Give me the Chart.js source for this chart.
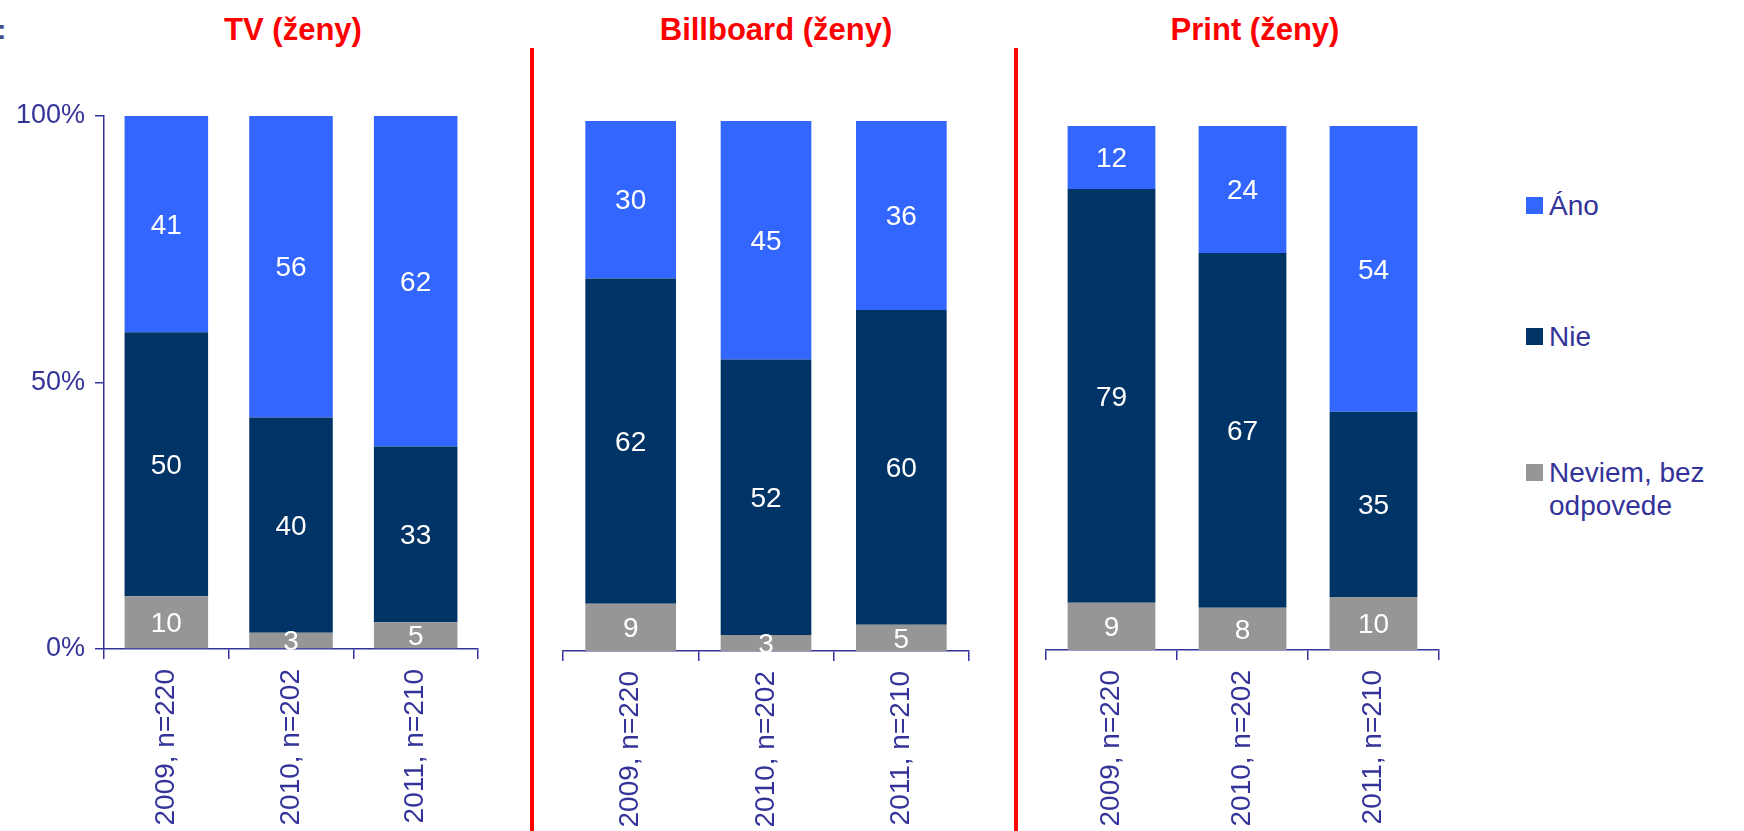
<!DOCTYPE html>
<html>
<head>
<meta charset="utf-8">
<script src="https://cdn.jsdelivr.net/npm/chart.js@4.4.1/dist/chart.umd.min.js"></script>
<style>
  body { margin: 0; width: 1744px; height: 831px; background: #fff; position: relative; overflow: hidden;
         font-family: 'Liberation Sans', Arial, sans-serif; }
  .panel { position: absolute; top: 0; height: 831px; }
  .title { position: absolute; top: 12px; transform: translateX(-50%); color: #ff0000; font-weight: bold;
           font-size: 31px; white-space: nowrap; }
  .sep { position: absolute; top: 48px; bottom: 0; width: 4px; background: #ff0000; }
  .legend { position: absolute; left: 1526px; color: #333399; font-size: 28px; line-height: 33px; }
  .legend span.box { position: absolute; left: 0; top: 8px; width: 17px; height: 17px; }
  .legend div.txt { margin-left: 23px; white-space: nowrap; }
  .frag { position: absolute; left: -3px; top: 14px; color: #3d4f8a; font-size: 28px; font-weight: bold; }
</style>
</head>
<body>
<div class="frag">:</div>
<div class="title" style="left:293px">TV (ženy)</div>
<div class="title" style="left:776px">Billboard (ženy)</div>
<div class="title" style="left:1255px">Print (ženy)</div>
<div class="sep" style="left:530px"></div>
<div class="sep" style="left:1014px"></div>

<div class="panel" style="left:0;width:520px"><canvas id="tv"></canvas></div>
<div class="panel" style="left:540px;width:460px"><canvas id="billboard"></canvas></div>
<div class="panel" style="left:1025px;width:450px"><canvas id="print"></canvas></div>

<div class="legend" style="top:189px"><span class="box" style="background:#3366ff"></span><div class="txt">Áno</div></div>
<div class="legend" style="top:320px"><span class="box" style="background:#003366"></span><div class="txt">Nie</div></div>
<div class="legend" style="top:456px"><span class="box" style="background:#969696"></span><div class="txt">Neviem, bez<br>odpovede</div></div>

<script>
const years = ['2009, n=220', '2010, n=202', '2011, n=210'];
const yTicks = [0, 50, 100];

const tvAno = [41, 56, 62];
const tvNie = [50, 40, 33];
const tvNeviem = [10, 3, 5];

const billboardAno = [30, 45, 36];
const billboardNie = [62, 52, 60];
const billboardNeviem = [9, 3, 5];

const printAno = [12, 24, 54];
const printNie = [79, 67, 35];
const printNeviem = [9, 8, 10];

const axisColor = '#333399';
Chart.defaults.font.family = "'Liberation Sans', Arial, sans-serif";
Chart.defaults.color = axisColor;

// white numbers in the middle of each segment
const valueLabels = {
  id: 'valueLabels',
  afterDatasetsDraw(chart) {
    const ctx = chart.ctx;
    ctx.save();
    ctx.fillStyle = '#ffffff';
    ctx.font = "28px 'Liberation Sans', Arial, sans-serif";
    ctx.textAlign = 'center';
    ctx.textBaseline = 'middle';
    chart.data.datasets.forEach((ds, i) => {
      chart.getDatasetMeta(i).data.forEach((bar, j) => {
        const p = bar.getProps(['x', 'y', 'base'], true);
        ctx.fillText(ds.raw[j], p.x, (p.y + p.base) / 2 + 2);
      });
    });
    ctx.restore();
  }
};

function makePanel(id, ano, nie, neviem, pad, showY, xHeight) {
  const totals = ano.map((v, i) => v + nie[i] + neviem[i]);
  const pct = arr => arr.map((v, i) => v / totals[i] * 100);
  new Chart(document.getElementById(id), {
    type: 'bar',
    data: {
      labels: years,
      datasets: [
        { label: 'Neviem, bez odpovede', data: pct(neviem), raw: neviem, backgroundColor: '#969696' },
        { label: 'Nie', data: pct(nie), raw: nie, backgroundColor: '#003366' },
        { label: 'Áno', data: pct(ano), raw: ano, backgroundColor: '#3366ff' }
      ]
    },
    options: {
      responsive: true,
      maintainAspectRatio: false,
      animation: false,
      events: [],
      layout: { padding: pad },
      datasets: { bar: { categoryPercentage: 1, barPercentage: 0.67 } },
      plugins: { legend: { display: false }, tooltip: { enabled: false } },
      scales: {
        x: {
          stacked: true,
          grid: { display: true, offset: true, drawOnChartArea: false, drawTicks: true, tickLength: 10, color: axisColor, lineWidth: 1.5 },
          border: { display: true, color: axisColor, width: 1.5 },
          ticks: { minRotation: 90, maxRotation: 90, autoSkip: false, padding: 10, color: axisColor, font: { size: 28 } },
          afterFit: s => { s.height = xHeight; }
        },
        y: {
          display: showY,
          stacked: true,
          min: 0,
          max: 100,
          afterBuildTicks: s => { s.ticks = yTicks.map(v => ({ value: v })); },
          grid: { display: true, drawOnChartArea: false, drawTicks: true, tickLength: 9, color: axisColor, lineWidth: 1.5 },
          border: { display: true, color: axisColor, width: 1.5 },
          ticks: { padding: 10, color: axisColor, font: { size: 27 }, callback: v => v + '%' },
          afterFit: s => { if (showY) s.width = 104; }
        }
      }
    },
    plugins: [valueLabels]
  });
}

makePanel('tv', tvAno, tvNie, tvNeviem, { left: 0, right: 42, top: 116, bottom: 0 }, true, 182);
makePanel('billboard', billboardAno, billboardNie, billboardNeviem, { left: 23, right: 31, top: 121, bottom: 0 }, false, 180);
makePanel('print', printAno, printNie, printNeviem, { left: 21, right: 36, top: 126, bottom: 0 }, false, 181);
</script>
</body>
</html>
